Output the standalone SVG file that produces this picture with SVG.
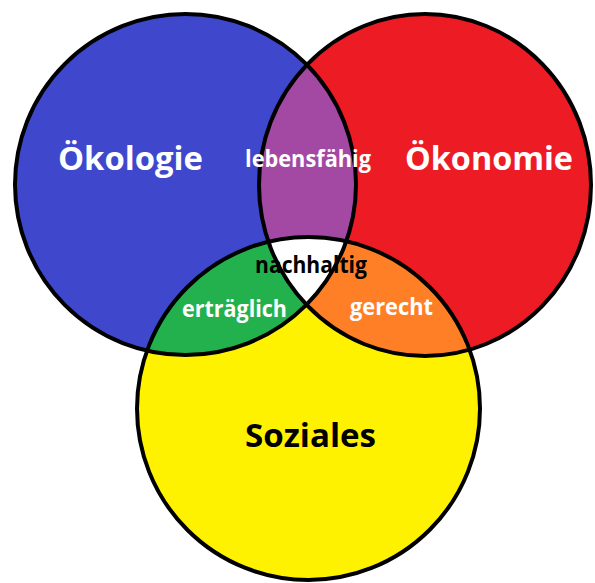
<svg xmlns="http://www.w3.org/2000/svg" width="595" height="583" viewBox="0 0 595 583">
<style>
.lbl{font-family:"Open Sans","Noto Sans","Liberation Sans",sans-serif;font-weight:bold;text-anchor:middle}
.w{fill:#ffffff}
.k{fill:#000000}
.ring{fill:none;stroke:#000;stroke-width:4}
</style>
<defs>
<clipPath id="cBlue"><circle cx="185.5" cy="184.5" r="170.5"/></clipPath>
<clipPath id="cRed"><ellipse cx="425" cy="185" rx="166" ry="171"/></clipPath>
</defs>
<rect width="595" height="583" fill="#ffffff"/>
<g id="oekologie">
<circle cx="185.5" cy="184.5" r="170.5" fill="#3F48CC"/>
</g>
<g id="oekonomie">
<ellipse cx="425" cy="185" rx="166" ry="171" fill="#ED1C24"/>
</g>
<g id="soziales">
<circle cx="308.5" cy="408.5" r="171.5" fill="#FFF200"/>
</g>
<g id="lebensfaehig">
<ellipse cx="425" cy="185" rx="166" ry="171" fill="#A349A4" clip-path="url(#cBlue)"/>
</g>
<g id="ertraeglich">
<circle cx="308.5" cy="408.5" r="171.5" fill="#22B14C" clip-path="url(#cBlue)"/>
</g>
<g id="gerecht">
<circle cx="308.5" cy="408.5" r="171.5" fill="#FF7F27" clip-path="url(#cRed)"/>
</g>
<g id="nachhaltig">
<g clip-path="url(#cBlue)"><circle cx="308.5" cy="408.5" r="171.5" fill="#ffffff" clip-path="url(#cRed)"/></g>
</g>
<g id="outlines">
<circle class="ring" cx="185.5" cy="184.5" r="170.5"/>
<ellipse class="ring" cx="425" cy="185" rx="166" ry="171"/>
<circle class="ring" cx="308.5" cy="408.5" r="171.5"/>
</g>
<g id="labels">
<text class="lbl w" x="130.5" y="170" font-size="32" textLength="145" lengthAdjust="spacingAndGlyphs">Ökologie</text>
<text class="lbl w" x="489" y="170" font-size="32" textLength="168" lengthAdjust="spacingAndGlyphs">Ökonomie</text>
<text class="lbl w" x="308" y="167" font-size="23" textLength="126" lengthAdjust="spacingAndGlyphs">lebensfähig</text>
<text class="lbl k" x="311" y="273" font-size="23" textLength="112" lengthAdjust="spacingAndGlyphs">nachhaltig</text>
<text class="lbl w" x="234.5" y="317" font-size="23" textLength="105" lengthAdjust="spacingAndGlyphs">erträglich</text>
<text class="lbl w" x="391.5" y="315" font-size="23" textLength="83" lengthAdjust="spacingAndGlyphs">gerecht</text>
<text class="lbl k" x="310.5" y="447" font-size="32" textLength="131" lengthAdjust="spacingAndGlyphs">Soziales</text>
</g>
</svg>
